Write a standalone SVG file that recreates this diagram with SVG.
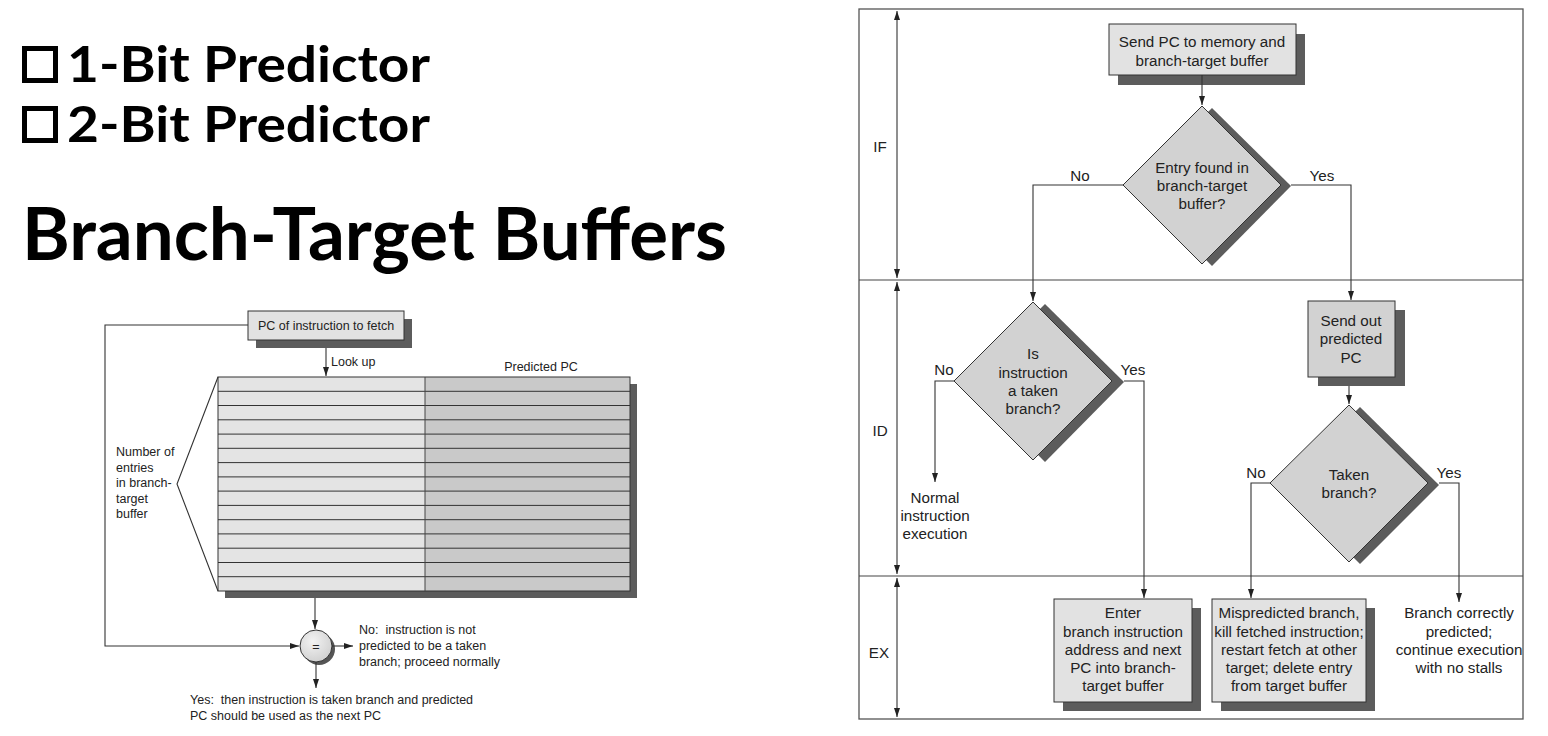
<svg xmlns="http://www.w3.org/2000/svg" width="1548" height="736" viewBox="0 0 1548 736">
<defs>
<marker id="ah" markerUnits="userSpaceOnUse" markerWidth="9" markerHeight="6" refX="9" refY="3" orient="auto-start-reverse"><path d="M0,0 L9,3 L0,6 z" fill="#222"/></marker>
<radialGradient id="cg" cx="0.4" cy="0.35" r="0.7"><stop offset="0" stop-color="#f2f2f2"/><stop offset="1" stop-color="#cfcfcf"/></radialGradient>
<style>
.ti{font-family:Lato,"Open Sans",sans-serif;font-weight:700;fill:#000}
.s{font-family:"Liberation Sans",Arial,sans-serif;font-size:12.5px;fill:#222}
.r{font-family:"Liberation Sans",Arial,sans-serif;font-size:15.2px;fill:#222;text-anchor:middle}
.l{font-family:"Liberation Sans",Arial,sans-serif;font-size:15.2px;fill:#222}
.pre{white-space:pre}
.box{fill:#e2e2e2;stroke:#333;stroke-width:1}
.dia{fill:#d2d2d2;stroke:#333;stroke-width:1}
.sh{fill:#5c5c5c}
.ln{fill:none;stroke:#333;stroke-width:1.1}
.arr{fill:none;stroke:#333;stroke-width:1.1;marker-end:url(#ah)}
.dbl{fill:none;stroke:#333;stroke-width:1.1;marker-start:url(#ah);marker-end:url(#ah)}
.frame{fill:#fff;stroke:#555;stroke-width:1.3}
</style>
</defs>
<rect width="1548" height="736" fill="#fff"/>

<g id="headings">
<rect x="24.5" y="48.5" width="31" height="32" fill="none" stroke="#000" stroke-width="5"/>
<text class="ti" x="67" y="82" font-size="50" textLength="363" lengthAdjust="spacingAndGlyphs">1-Bit Predictor</text>
<rect x="24.5" y="108.5" width="31" height="32" fill="none" stroke="#000" stroke-width="5"/>
<text class="ti" x="67" y="142" font-size="50" textLength="363" lengthAdjust="spacingAndGlyphs">2-Bit Predictor</text>
<text class="ti" x="22" y="260" font-size="72" textLength="705" lengthAdjust="spacingAndGlyphs">Branch-Target Buffers</text>
</g>

<!-- Left diagram -->
<g id="pc-box">
<rect class="sh" x="256" y="319" width="156" height="29"/>
<rect class="box" x="248" y="311" width="156" height="29"/>
<text class="s" x="326" y="329.5" text-anchor="middle">PC of instruction to fetch</text>
</g>
<g id="btb-table">
<rect class="sh" x="225" y="384" width="412" height="214"/>
<rect x="218" y="377" width="207" height="214" fill="#e4e4e4"/>
<rect x="425" y="377" width="205" height="214" fill="#c9c9c9"/>
<path d="M218 391.3H630M218 405.5H630M218 419.8H630M218 434.1H630M218 448.3H630M218 462.6H630M218 476.9H630M218 491.1H630M218 505.4H630M218 519.7H630M218 533.9H630M218 548.2H630M218 562.5H630M218 576.7H630" stroke="#333" stroke-width="1" fill="none"/>
<rect x="218" y="377" width="412" height="214" fill="none" stroke="#333" stroke-width="1"/>
<line x1="425" y1="377" x2="425" y2="591" stroke="#444" stroke-width="1"/>
<text class="s" x="541" y="371" text-anchor="middle">Predicted PC</text>
</g>
<g id="entries-label">
<polyline class="ln" points="218,377 177,484 218,591"/>
<text class="s" x="116" y="456">Number of</text>
<text class="s" x="116" y="471.5">entries</text>
<text class="s" x="116" y="487">in branch-</text>
<text class="s" x="116" y="502.5">target</text>
<text class="s" x="116" y="518">buffer</text>
</g>
<g id="compare">
<circle cx="319" cy="649" r="16" fill="#555"/>
<circle cx="316" cy="646" r="16" fill="url(#cg)" stroke="#333" stroke-width="1"/>
<text class="s" x="316" y="650.5" text-anchor="middle">=</text>
</g>
<g id="left-connectors">
<path class="arr" d="M248 325H105V646H299"/>
<path class="arr" d="M326 348V376"/>
<path class="arr" d="M315 598V629"/>
<path class="arr" d="M332 646H353"/>
<path class="arr" d="M316 662V688"/>
<text class="s" x="331" y="366">Look up</text>
</g>
<g id="no-text">
<text class="s pre" x="359" y="633.5">No:  instruction is not</text>
<text class="s" x="359" y="649.5">predicted to be a taken</text>
<text class="s" x="359" y="665.5">branch; proceed normally</text>
</g>
<g id="yes-text">
<text class="s pre" x="190" y="703.5">Yes:  then instruction is taken branch and predicted</text>
<text class="s" x="190" y="719.5">PC should be used as the next PC</text>
</g>

<!-- Right flowchart -->
<g id="frame">
<rect class="frame" x="859" y="9" width="664" height="710"/>
<line x1="859" y1="280" x2="1523" y2="280" stroke="#444" stroke-width="1.2"/>
<line x1="859" y1="576" x2="1523" y2="576" stroke="#444" stroke-width="1.2"/>
<path class="dbl" d="M897 11V278"/>
<path class="dbl" d="M897 282V574"/>
<path class="dbl" d="M897 578V717"/>
<text class="l" x="880" y="151.5" text-anchor="middle">IF</text>
<text class="l" x="880" y="435.5" text-anchor="middle">ID</text>
<text class="l" x="879" y="657.5" text-anchor="middle">EX</text>
</g>

<g id="send-pc">
<rect class="sh" x="1118" y="34" width="187" height="51"/>
<rect class="box" x="1109" y="24" width="187" height="51"/>
<text class="r" x="1202" y="46.5">Send PC to memory and</text>
<text class="r" x="1202" y="65.5">branch-target buffer</text>
</g>

<g id="entry-found">
<polygon class="sh" points="1212,108 1291,186 1212,266 1133,186"/>
<polygon class="dia" points="1202,106 1281,185 1202,264 1123,185"/>
<text class="r" x="1202" y="172.5">Entry found in</text>
<text class="r" x="1202" y="190.5">branch-target</text>
<text class="r" x="1202" y="208.5">buffer?</text>
</g>

<g id="is-taken">
<polygon class="sh" points="1045,304 1124,382 1045,462 966,382"/>
<polygon class="dia" points="1033,302 1112,381 1033,460 954,381"/>
<text class="r" x="1033" y="358.5">Is</text>
<text class="r" x="1033" y="377.5">instruction</text>
<text class="r" x="1033" y="395.5">a taken</text>
<text class="r" x="1033" y="413.5">branch?</text>
</g>

<g id="normal-exec">
<text class="r" x="935" y="502.5">Normal</text>
<text class="r" x="935" y="520.5">instruction</text>
<text class="r" x="935" y="538.5">execution</text>
</g>

<g id="send-out">
<rect class="sh" x="1318" y="310" width="87" height="76"/>
<rect class="dia" x="1308" y="301" width="87" height="76"/>
<text class="r" x="1351" y="325.5">Send out</text>
<text class="r" x="1351" y="343.5">predicted</text>
<text class="r" x="1351" y="362.5">PC</text>
</g>

<g id="taken-branch">
<polygon class="sh" points="1360,407 1439,485 1360,564 1281,485"/>
<polygon class="dia" points="1349,405 1428,483 1349,562 1270,483"/>
<text class="r" x="1349" y="479.5">Taken</text>
<text class="r" x="1349" y="497.5">branch?</text>
</g>

<g id="enter-btb">
<rect class="sh" x="1063" y="608" width="138" height="103"/>
<rect class="box" x="1054" y="599" width="138" height="103"/>
<text class="r" x="1123" y="618.3">Enter</text>
<text class="r" x="1123" y="637.3">branch instruction</text>
<text class="r" x="1123" y="655.3">address and next</text>
<text class="r" x="1123" y="673.3">PC into branch-</text>
<text class="r" x="1123" y="691.3">target buffer</text>
</g>

<g id="mispredicted">
<rect class="sh" x="1221" y="608" width="154" height="103"/>
<rect class="box" x="1212" y="599" width="154" height="103"/>
<text class="r" x="1289" y="618.3">Mispredicted branch,</text>
<text class="r" x="1289" y="637.3">kill fetched instruction;</text>
<text class="r" x="1289" y="655.3">restart fetch at other</text>
<text class="r" x="1289" y="673.3">target; delete entry</text>
<text class="r" x="1289" y="691.3">from target buffer</text>
</g>

<g id="correct">
<text class="r" x="1459" y="618.3">Branch correctly</text>
<text class="r" x="1459" y="637.3">predicted;</text>
<text class="r" x="1459" y="655.3">continue execution</text>
<text class="r" x="1459" y="673.3">with no stalls</text>
</g>

<g id="connectors">
<path class="arr" d="M1202 75V105"/>
<path class="arr" d="M1123 185H1033V301"/>
<path class="arr" d="M1291 185H1351V300"/>
<path class="arr" d="M954 381H935V482"/>
<path class="arr" d="M1124 381H1144V598"/>
<path class="arr" d="M1349 386V404"/>
<path class="arr" d="M1270 483H1251V598"/>
<path class="arr" d="M1439 483H1459V602"/>
<text class="r" x="1080" y="180.5">No</text>
<text class="r" x="1322" y="180.5">Yes</text>
<text class="r" x="944" y="374.5">No</text>
<text class="r" x="1133" y="374.5">Yes</text>
<text class="r" x="1256" y="477.5">No</text>
<text class="r" x="1449" y="477.5">Yes</text>
</g>
</svg>
